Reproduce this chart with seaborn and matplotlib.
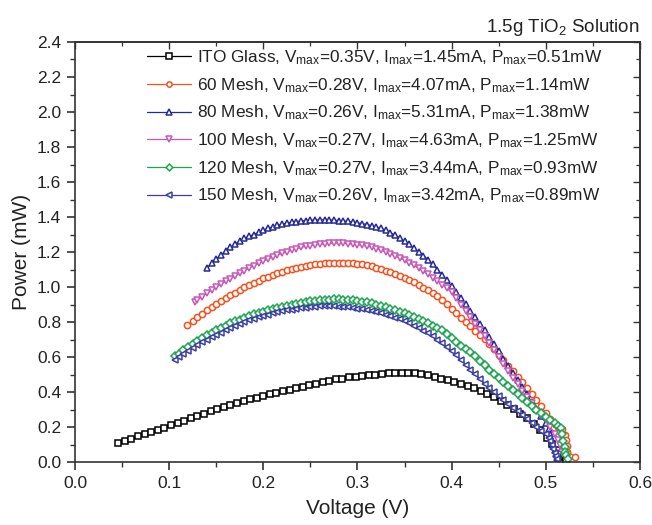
import numpy as np
import matplotlib
matplotlib.use("Agg")
import matplotlib.pyplot as plt
import seaborn as sns
from matplotlib.ticker import MultipleLocator, FormatStrFormatter

# ---------------- data ----------------
V_ITO = [0.046,0.053,0.060,0.067,0.074,0.081,0.088,0.095,0.102,0.109,
         0.116,0.123,0.130,0.137,0.144,0.151,0.158,0.165,0.172,0.179,
         0.186,0.193,0.200,0.207,0.214,0.221,0.228,0.235,0.242,0.249,
         0.256,0.263,0.270,0.277,0.284,0.291,0.298,0.305,0.312,0.319,
         0.326,0.333,0.340,0.347,0.354,0.361,0.368,0.375,0.382,0.389,
         0.396,0.403,0.410,0.417,0.424,0.431,0.438,0.445,0.452,0.459,
         0.466,0.473,0.480,0.487,0.494,0.501,0.507,0.512,0.516,0.519,
         0.521,0.522]
P_ITO = [0.107,0.120,0.133,0.146,0.159,0.171,0.183,0.196,0.210,0.223,
         0.237,0.250,0.264,0.277,0.291,0.303,0.314,0.325,0.336,0.347,
         0.358,0.368,0.378,0.387,0.396,0.405,0.414,0.423,0.431,0.440,
         0.448,0.456,0.464,0.472,0.477,0.483,0.488,0.492,0.496,0.500,
         0.503,0.506,0.508,0.509,0.509,0.507,0.503,0.496,0.487,0.477,
         0.466,0.455,0.444,0.433,0.421,0.406,0.390,0.372,0.350,0.326,
         0.302,0.276,0.250,0.218,0.182,0.140,0.102,0.070,0.045,0.027,
         0.014,0.004]

V_60 = [0.119,0.125,0.130,0.135,0.140,0.145,0.150,0.155,0.160,0.165,
        0.170,0.175,0.180,0.185,0.190,0.195,0.200,0.205,0.210,0.215,
        0.220,0.225,0.230,0.235,0.240,0.245,0.250,0.255,0.260,0.265,
        0.270,0.275,0.280,0.285,0.290,0.295,0.300,0.305,0.310,0.315,
        0.320,0.325,0.330,0.335,0.340,0.345,0.350,0.355,0.360,0.365,
        0.370,0.375,0.380,0.385,0.390,0.395,0.400,0.405,0.410,0.415,
        0.420,0.425,0.430,0.435,0.440,0.445,0.450,0.455,0.460,0.465,
        0.470,0.475,0.480,0.485,0.490,0.495,0.500,0.505,0.510,0.513,
        0.517,0.520,0.522,0.523,0.523,0.531]
P_60 = [0.783,0.808,0.828,0.848,0.866,0.884,0.902,0.919,0.936,0.952,
        0.968,0.983,0.998,1.012,1.025,1.037,1.049,1.060,1.070,1.079,
        1.088,1.096,1.103,1.109,1.115,1.120,1.125,1.129,1.132,1.135,
        1.137,1.139,1.140,1.140,1.139,1.137,1.134,1.130,1.125,1.118,
        1.111,1.103,1.094,1.084,1.073,1.062,1.051,1.039,1.026,1.012,
        0.997,0.981,0.965,0.947,0.926,0.902,0.877,0.851,0.825,0.800,
        0.775,0.751,0.727,0.703,0.674,0.643,0.612,0.581,0.550,0.519,
        0.488,0.457,0.425,0.390,0.354,0.318,0.282,0.245,0.215,0.200,
        0.188,0.155,0.125,0.092,0.060,0.030]

V_80 = [0.140,0.145,0.150,0.155,0.160,0.165,0.170,0.175,0.180,0.185,
        0.190,0.195,0.200,0.205,0.210,0.215,0.220,0.225,0.230,0.235,
        0.240,0.245,0.250,0.255,0.260,0.265,0.270,0.275,0.280,0.285,
        0.290,0.295,0.300,0.305,0.310,0.315,0.320,0.325,0.330,0.335,
        0.340,0.345,0.350,0.355,0.360,0.365,0.370,0.375,0.380,0.385,
        0.390,0.395,0.400,0.405,0.410,0.415,0.420,0.425,0.430,0.435,
        0.440,0.445,0.450,0.455,0.460,0.465,0.470,0.475,0.480,0.485,
        0.490,0.495,0.500,0.503,0.505,0.507,0.508,0.510,0.511,0.512]
P_80 = [1.107,1.135,1.160,1.183,1.205,1.226,1.246,1.263,1.278,1.290,
        1.300,1.312,1.324,1.335,1.344,1.352,1.359,1.365,1.370,1.374,
        1.377,1.380,1.382,1.383,1.384,1.384,1.383,1.382,1.380,1.378,
        1.375,1.371,1.367,1.362,1.357,1.351,1.344,1.335,1.323,1.310,
        1.296,1.280,1.262,1.243,1.223,1.202,1.180,1.156,1.130,1.100,
        1.069,1.038,1.006,0.973,0.937,0.901,0.864,0.828,0.791,0.755,
        0.714,0.673,0.632,0.591,0.550,0.509,0.468,0.427,0.386,0.345,
        0.304,0.263,0.222,0.190,0.160,0.128,0.098,0.068,0.044,0.024]

V_100 = [0.127,0.130,0.135,0.140,0.145,0.150,0.155,0.160,0.165,0.170,
         0.175,0.180,0.185,0.190,0.195,0.200,0.205,0.210,0.215,0.220,
         0.225,0.230,0.235,0.240,0.245,0.250,0.255,0.260,0.265,0.270,
         0.275,0.280,0.285,0.290,0.295,0.300,0.305,0.310,0.315,0.320,
         0.325,0.330,0.335,0.340,0.345,0.350,0.355,0.360,0.365,0.370,
         0.375,0.380,0.385,0.390,0.395,0.400,0.405,0.410,0.415,0.420,
         0.425,0.430,0.435,0.440,0.445,0.450,0.455,0.460,0.465,0.470,
         0.475,0.480,0.485,0.490,0.495,0.500,0.505,0.510,0.513,0.515,
         0.517]
P_100 = [0.914,0.926,0.945,0.964,0.982,1.000,1.017,1.033,1.048,1.063,
         1.078,1.093,1.108,1.122,1.135,1.148,1.160,1.171,1.182,1.192,
         1.201,1.210,1.218,1.226,1.232,1.237,1.241,1.244,1.247,1.249,
         1.250,1.250,1.249,1.247,1.245,1.242,1.238,1.233,1.227,1.220,
         1.211,1.201,1.190,1.178,1.165,1.152,1.138,1.123,1.107,1.090,
         1.072,1.053,1.034,1.014,0.993,0.970,0.937,0.900,0.863,0.827,
         0.791,0.755,0.718,0.678,0.638,0.598,0.558,0.518,0.480,0.443,
         0.406,0.370,0.335,0.300,0.270,0.240,0.200,0.160,0.125,0.095,
         0.055]

V_120 = [0.106,0.110,0.115,0.120,0.125,0.130,0.135,0.140,0.145,0.150,
         0.155,0.160,0.165,0.170,0.175,0.180,0.185,0.190,0.195,0.200,
         0.205,0.210,0.215,0.220,0.225,0.230,0.235,0.240,0.245,0.250,
         0.255,0.260,0.265,0.270,0.275,0.280,0.285,0.290,0.295,0.300,
         0.305,0.310,0.315,0.320,0.325,0.330,0.335,0.340,0.345,0.350,
         0.355,0.360,0.365,0.370,0.375,0.380,0.385,0.390,0.395,0.400,
         0.405,0.410,0.415,0.420,0.425,0.430,0.435,0.440,0.445,0.450,
         0.455,0.460,0.465,0.470,0.475,0.480,0.485,0.490,0.495,0.500,
         0.505,0.510,0.513,0.516,0.517,0.518,0.520,0.520,0.522,0.524]
P_120 = [0.606,0.620,0.638,0.655,0.673,0.690,0.707,0.725,0.740,0.754,
         0.767,0.780,0.792,0.803,0.814,0.825,0.834,0.843,0.852,0.860,
         0.867,0.874,0.881,0.888,0.894,0.900,0.905,0.910,0.914,0.918,
         0.922,0.925,0.927,0.928,0.929,0.929,0.928,0.926,0.924,0.921,
         0.917,0.912,0.906,0.899,0.892,0.884,0.876,0.868,0.860,0.850,
         0.839,0.828,0.816,0.804,0.792,0.780,0.768,0.752,0.732,0.710,
         0.688,0.665,0.648,0.628,0.605,0.580,0.555,0.528,0.502,0.478,
         0.455,0.432,0.410,0.388,0.366,0.344,0.322,0.300,0.280,0.260,
         0.240,0.222,0.208,0.195,0.160,0.122,0.088,0.060,0.038,0.018]

V_150 = [0.106,0.110,0.115,0.120,0.125,0.130,0.135,0.140,0.145,0.150,
         0.155,0.160,0.165,0.170,0.175,0.180,0.185,0.190,0.195,0.200,
         0.205,0.210,0.215,0.220,0.225,0.230,0.235,0.240,0.245,0.250,
         0.255,0.260,0.265,0.270,0.275,0.280,0.285,0.290,0.295,0.300,
         0.305,0.310,0.315,0.320,0.325,0.330,0.335,0.340,0.345,0.350,
         0.355,0.360,0.365,0.370,0.375,0.380,0.385,0.390,0.395,0.400,
         0.405,0.410,0.415,0.420,0.425,0.430,0.435,0.440,0.445,0.450,
         0.455,0.460,0.465,0.470,0.475,0.480,0.485,0.490,0.495,0.500,
         0.503,0.505,0.507,0.508,0.510,0.511,0.512]
P_150 = [0.583,0.598,0.617,0.635,0.652,0.668,0.684,0.700,0.714,0.727,
         0.740,0.753,0.765,0.777,0.789,0.800,0.809,0.818,0.826,0.834,
         0.842,0.849,0.855,0.861,0.866,0.871,0.875,0.879,0.882,0.885,
         0.887,0.889,0.890,0.890,0.889,0.888,0.886,0.883,0.880,0.876,
         0.872,0.867,0.862,0.856,0.849,0.841,0.833,0.824,0.815,0.805,
         0.793,0.780,0.766,0.751,0.736,0.720,0.700,0.678,0.655,0.633,
         0.610,0.583,0.556,0.528,0.501,0.473,0.446,0.424,0.401,0.380,
         0.357,0.334,0.311,0.289,0.267,0.245,0.223,0.201,0.180,0.160,
         0.138,0.118,0.095,0.075,0.052,0.035,0.020]

labels = [
    r"ITO Glass, V$_{\mathrm{max}}$=0.35V, I$_{\mathrm{max}}$=1.45mA, P$_{\mathrm{max}}$=0.51mW",
    r"60 Mesh, V$_{\mathrm{max}}$=0.28V, I$_{\mathrm{max}}$=4.07mA, P$_{\mathrm{max}}$=1.14mW",
    r"80 Mesh, V$_{\mathrm{max}}$=0.26V, I$_{\mathrm{max}}$=5.31mA, P$_{\mathrm{max}}$=1.38mW",
    r"100 Mesh, V$_{\mathrm{max}}$=0.27V, I$_{\mathrm{max}}$=4.63mA, P$_{\mathrm{max}}$=1.25mW",
    r"120 Mesh, V$_{\mathrm{max}}$=0.27V, I$_{\mathrm{max}}$=3.44mA, P$_{\mathrm{max}}$=0.93mW",
    r"150 Mesh, V$_{\mathrm{max}}$=0.26V, I$_{\mathrm{max}}$=3.42mA, P$_{\mathrm{max}}$=0.89mW",
]
series_V = [V_ITO, V_60, V_80, V_100, V_120, V_150]
series_P = [P_ITO, P_60, P_80, P_100, P_120, P_150]
colors = ["#000000", "#F4511E", "#252A96", "#C957B8", "#1AA64E", "#3A3FA3"]
markers = ["s", "o", "^", "v", "D", "<"]
msizes = [4.3, 4.5, 5.0, 5.0, 4.1, 5.0]

# ---------------- style ----------------
sns.set_theme(style="ticks")
plt.rcParams["font.family"] = ["Liberation Sans", "DejaVu Sans"]
plt.rcParams["mathtext.fontset"] = "custom"
plt.rcParams["mathtext.rm"] = "Liberation Sans"
plt.rcParams["mathtext.it"] = "Liberation Sans:italic"
plt.rcParams["mathtext.bf"] = "Liberation Sans:bold"

fig = plt.figure(figsize=(6.52, 5.25), dpi=100)
ax = fig.add_axes([0.115, 0.12, 0.8665, 0.80])

for V, P, lab, c, m, ms in zip(series_V, series_P, labels, colors, markers, msizes):
    if len(V) != len(P):
        raise ValueError(f"length mismatch for {lab}: {len(V)} vs {len(P)}")
    sns.lineplot(x=V, y=P, ax=ax, estimator=None, sort=False, color=c,
                 linewidth=0.9, marker=m, markersize=ms,
                 markerfacecolor="white", markeredgecolor=c,
                 markeredgewidth=1.1, label=lab)

ax.set_xlim(0.0, 0.6)
ax.set_ylim(0.0, 2.4)
ax.xaxis.set_major_locator(MultipleLocator(0.1))
ax.xaxis.set_minor_locator(MultipleLocator(0.05))
ax.yaxis.set_major_locator(MultipleLocator(0.2))
ax.yaxis.set_minor_locator(MultipleLocator(0.1))
ax.xaxis.set_major_formatter(FormatStrFormatter("%.1f"))
ax.yaxis.set_major_formatter(FormatStrFormatter("%.1f"))

spine_col = "#333333"
for s in ax.spines.values():
    s.set_visible(True)
    s.set_linewidth(1.2)
    s.set_color(spine_col)

ax.tick_params(which="major", direction="out", length=6, width=1.2,
               color=spine_col, labelsize=12.5, labelcolor="#222222", pad=4)
ax.tick_params(which="minor", direction="out", length=3.5, width=1.0,
               color=spine_col)

# mirrored inward ticks on top / right
sec = ax.secondary_xaxis("top")
sec.xaxis.set_major_locator(MultipleLocator(0.1))
sec.xaxis.set_minor_locator(MultipleLocator(0.05))
sec.tick_params(which="major", direction="in", length=5, width=1.0,
                color=spine_col, labeltop=False)
sec.tick_params(which="minor", direction="in", length=3, width=0.9,
                color=spine_col)
sec.spines["top"].set_linewidth(1.2)
sec.spines["top"].set_color(spine_col)
sec2 = ax.secondary_yaxis("right")
sec2.yaxis.set_major_locator(MultipleLocator(0.2))
sec2.yaxis.set_minor_locator(MultipleLocator(0.1))
sec2.tick_params(which="major", direction="in", length=5, width=1.0,
                 color=spine_col, labelright=False)
sec2.tick_params(which="minor", direction="in", length=3, width=0.9,
                 color=spine_col)
sec2.spines["right"].set_linewidth(1.2)
sec2.spines["right"].set_color(spine_col)

ax.set_xlabel("Voltage (V)", fontsize=15, color="#222222", labelpad=6)
ax.set_ylabel("Power (mW)", fontsize=15, color="#222222", labelpad=4)
ax.set_title(r"1.5g TiO$_2$ Solution", loc="right", fontsize=13.5,
             color="#222222", pad=7)

leg = ax.legend(loc="upper left", bbox_to_anchor=(0.127, 0.985),
                frameon=False, fontsize=12.4, handlelength=2.55,
                handletextpad=0.35, labelspacing=0.52, borderpad=0.0,
                borderaxespad=0.0, numpoints=1, markerscale=0.85)
for t in leg.get_texts():
    t.set_color("#222222")

fig.savefig("out.png", dpi=100)
